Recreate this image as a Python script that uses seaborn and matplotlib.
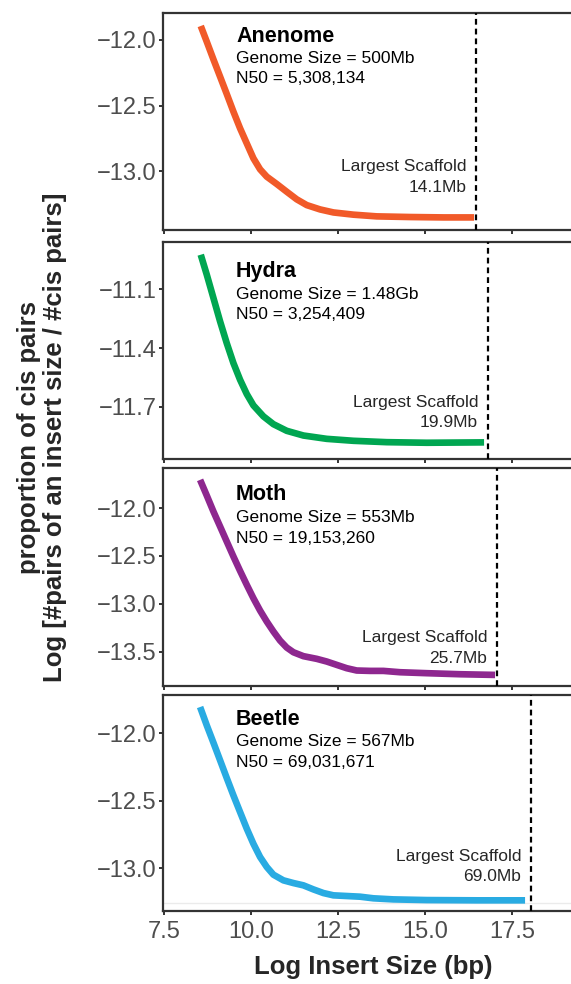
import numpy as np
import pandas as pd
import matplotlib
matplotlib.use("Agg")
import matplotlib.pyplot as plt
import seaborn as sns

# ---- data -------------------------------------------------------------
species = ["Anenome", "Hydra", "Moth", "Beetle"]
genome_size = ["500Mb", "1.48Gb", "553Mb", "567Mb"]
n50 = ["5,308,134", "3,254,409", "19,153,260", "69,031,671"]
largest_scaffold_mb = [14.1, 19.9, 25.7, 69.0]

anenome_x = [8.545, 8.718, 8.909, 9.101, 9.292, 9.484, 9.675, 9.867, 10.058, 10.250, 10.442,
             10.729, 11.016, 11.304, 11.591, 11.974, 12.357, 12.932, 13.603, 14.560, 15.518, 16.399]
anenome_y = [-11.893, -12.013, -12.148, -12.280, -12.412, -12.547, -12.674, -12.789, -12.903, -12.987, -13.043,
             -13.099, -13.158, -13.216, -13.260, -13.293, -13.316, -13.333, -13.346, -13.351, -13.354, -13.354]

hydra_x = [8.545, 8.718, 8.909, 9.101, 9.292, 9.484, 9.675, 9.867, 10.058, 10.345, 10.633,
           11.016, 11.495, 12.165, 12.932, 13.890, 15.040, 16.687]
hydra_y = [-10.923, -11.025, -11.144, -11.264, -11.375, -11.477, -11.562, -11.635, -11.693, -11.749, -11.789,
           -11.823, -11.847, -11.864, -11.874, -11.881, -11.884, -11.882]

moth_x = [8.526, 8.718, 8.909, 9.101, 9.292, 9.484, 9.675, 9.867, 10.058, 10.250, 10.442, 10.633, 10.825,
          11.016, 11.208, 11.495, 11.878, 12.165, 12.452, 12.740, 13.027, 13.410, 13.794, 14.273, 15.040,
          15.997, 17.003]
moth_y = [-11.704, -11.868, -12.035, -12.192, -12.349, -12.506, -12.656, -12.802, -12.942, -13.071, -13.186,
          -13.290, -13.385, -13.458, -13.507, -13.548, -13.576, -13.604, -13.639, -13.674, -13.698, -13.702,
          -13.702, -13.716, -13.726, -13.737, -13.744]

beetle_x = [8.526, 8.718, 8.909, 9.101, 9.292, 9.484, 9.675, 9.867, 10.058, 10.250, 10.442, 10.633, 10.921,
            11.208, 11.495, 11.782, 12.070, 12.357, 12.740, 13.123, 13.506, 14.081, 15.040, 16.476, 17.865]
beetle_y = [-11.805, -11.941, -12.069, -12.200, -12.331, -12.460, -12.583, -12.706, -12.818, -12.916, -12.990,
            -13.047, -13.089, -13.109, -13.126, -13.156, -13.183, -13.200, -13.205, -13.210, -13.222, -13.230,
            -13.235, -13.237, -13.237]

beetle_baseline = -13.255

x_ticks = [7.5, 10.0, 12.5, 15.0, 17.5]
y_ticks = [
    [-12.0, -12.5, -13.0],
    [-11.1, -11.4, -11.7],
    [-12.0, -12.5, -13.0, -13.5],
    [-12.0, -12.5, -13.0],
]

# ---- styling / layout -------------------------------------------------
colors = ["#F15A29", "#00A651", "#8E278F", "#29ABE2"]
y_limits = [(-13.45, -11.794), (-11.967, -10.858), (-13.86, -11.58), (-13.316, -11.716)]
x_limits = (7.46, 19.53)

# panel rectangles in pixels (top, bottom) on a 571 x 984 canvas
W, H = 571, 984
panel_px = [(13, 230), (242, 459), (468, 686), (695, 911)]
left_px, right_px = 163, 583

# text baselines as axes fractions: title, genome size, N50, scaffold label, scaffold size
text_y = [
    (0.868, 0.768, 0.676, 0.272, 0.176),
    (0.837, 0.737, 0.645, 0.238, 0.146),
    (0.853, 0.750, 0.658, 0.203, 0.107),
    (0.860, 0.764, 0.668, 0.230, 0.138),
]
text_x = (236 - left_px) / (right_px - left_px)

sns.set_style("white")
plt.rcParams["font.family"] = ["Liberation Sans", "DejaVu Sans"]

frame_color = "#333333"
tick_color = "#4D4D4D"

fig = plt.figure(figsize=(W / 100, H / 100), dpi=100)

series = [(anenome_x, anenome_y), (hydra_x, hydra_y), (moth_x, moth_y), (beetle_x, beetle_y)]

for i, (name, (xs, ys)) in enumerate(zip(species, series)):
    top, bot = panel_px[i]
    ax = fig.add_axes([left_px / W, 1 - bot / H, (right_px - left_px) / W, (bot - top) / H])

    df = pd.DataFrame({"insert": xs, "value": ys})
    if name == "Beetle":
        ax.axhline(beetle_baseline, color="#EBEBEB", lw=1.0, zorder=0)
    sns.lineplot(data=df, x="insert", y="value", ax=ax, color=colors[i],
                 lw=4.8, solid_capstyle="butt", solid_joinstyle="round", zorder=3)

    xline = np.log(largest_scaffold_mb[i] * 1e6)
    ax.axvline(xline, color="black", lw=1.6, ls=(0, (2.6, 1.8)), zorder=4)

    ax.set_xlim(*x_limits)
    ax.set_ylim(*y_limits[i])
    ax.set_xticks(x_ticks)
    ax.set_yticks(y_ticks[i])
    ax.set_yticklabels([f"{v:.1f}".replace("-", "\u2212") for v in y_ticks[i]])
    if i == 3:
        ax.set_xticklabels([f"{v:.1f}" for v in x_ticks])
    else:
        ax.set_xticklabels([])
    ax.set_xlabel("")
    ax.set_ylabel("")

    for side in ["left", "bottom", "top", "right"]:
        ax.spines[side].set_color(frame_color)
        ax.spines[side].set_linewidth(1.6)
    ax.tick_params(axis="both", which="both", direction="out", length=3,
                   width=1.4, color=frame_color, labelcolor=tick_color,
                   labelsize=17, left=True, bottom=True)
    ax.tick_params(axis="y", pad=1.5)
    ax.tick_params(axis="x", pad=4)

    ty = text_y[i]
    ax.text(text_x, ty[0], name, transform=ax.transAxes, fontsize=15.5,
            fontweight="bold", color="black", ha="left", va="baseline")
    ax.text(text_x, ty[1], f"Genome Size = {genome_size[i]}", transform=ax.transAxes,
            fontsize=12.5, color="black", ha="left", va="baseline")
    ax.text(text_x, ty[2], f"N50 = {n50[i]}", transform=ax.transAxes,
            fontsize=12.5, color="black", ha="left", va="baseline")

    trans = ax.get_xaxis_transform()
    ax.annotate("Largest Scaffold", xy=(xline, ty[3]), xycoords=trans,
                xytext=(-10, 0), textcoords="offset pixels",
                fontsize=12.5, ha="right", va="baseline")
    ax.annotate(f"{largest_scaffold_mb[i]:.1f}Mb", xy=(xline, ty[4]), xycoords=trans,
                xytext=(-10, 0), textcoords="offset pixels",
                fontsize=12.5, ha="right", va="baseline")

# shared axis titles
fig.text(29 / W, 1 - 437 / H, "proportion of cis pairs", rotation=90,
         fontsize=18.5, fontweight="bold", ha="center", va="center")
fig.text(55 / W, 1 - 437 / H, "Log [#pairs of an insert size / #cis pairs]", rotation=90,
         fontsize=18.5, fontweight="bold", ha="center", va="center")
fig.text(373.5 / W, 1 - 967 / H, "Log Insert Size (bp)",
         fontsize=18.5, fontweight="bold", ha="center", va="center")

fig.savefig("out.png", dpi=100)
